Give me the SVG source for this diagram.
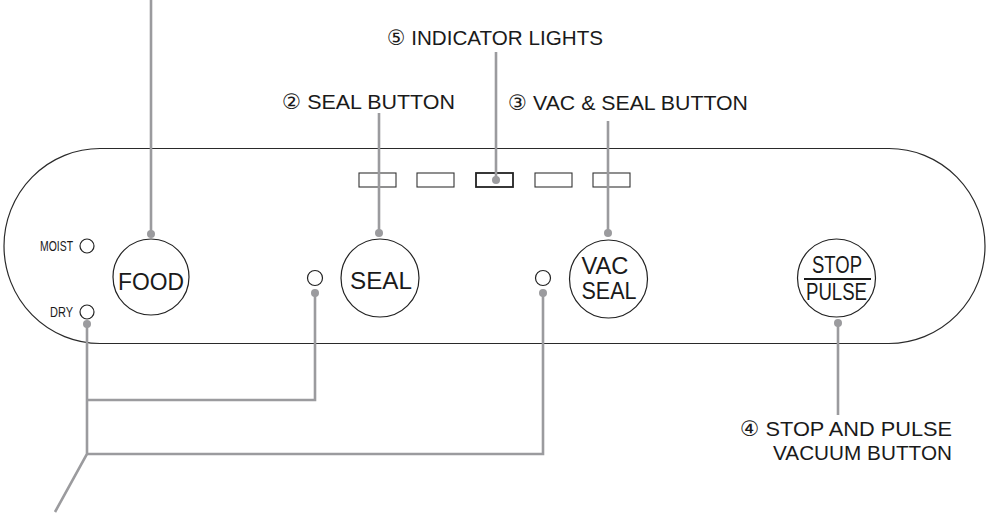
<svg xmlns="http://www.w3.org/2000/svg" width="987" height="514" viewBox="0 0 987 514">
<defs>
<style>
.panel{fill:#fff;stroke:#2a2a2a;stroke-width:1.2}
.btn{fill:#fff;stroke:#222;stroke-width:1.2}
.led{fill:#fff;stroke:#333;stroke-width:1.1}
.led-on{fill:#fff;stroke:#222;stroke-width:1.8}
.lead{fill:none;stroke:#9b9b9e;stroke-width:2.6}
.dot{fill:#9b9b9e}
.lbl{font-family:"Liberation Sans","DejaVu Sans",sans-serif;font-size:21px;fill:#1a1a1a}
.btxt{font-family:"Liberation Sans",sans-serif;font-size:24px;fill:#1a1a1a}
.small{font-family:"Liberation Sans",sans-serif;font-size:15px;fill:#1a1a1a}
</style>
</defs>
<rect width="987" height="514" fill="#fff"/>
<g id="panel">
<path class="panel" d="M100,148.5 H889 A96,97.5 0 0 1 889,343.5 H100 A96,97.5 0 0 1 100,148.5 Z"/>
</g>
<g id="indicator-lights">
<rect class="led" x="359" y="173" width="37" height="14"/>
<rect class="led" x="417" y="173" width="37" height="14"/>
<rect class="led-on" x="476" y="173" width="37" height="14"/>
<rect class="led" x="535" y="173" width="37" height="14"/>
<rect class="led" x="593" y="173" width="37" height="14"/>
</g>
<g id="moist">
<circle class="btn" cx="87" cy="246" r="7"/>
<text class="small" x="73" y="251" text-anchor="end" textLength="33" lengthAdjust="spacingAndGlyphs">MOIST</text>
</g>
<g id="dry">
<circle class="btn" cx="87" cy="312" r="7"/>
<text class="small" x="73" y="317" text-anchor="end" textLength="23" lengthAdjust="spacingAndGlyphs">DRY</text>
</g>
<g id="food-button">
<circle class="btn" cx="151" cy="277" r="38"/>
<text class="btxt" x="151" y="290" text-anchor="middle" textLength="66" lengthAdjust="spacingAndGlyphs">FOOD</text>
</g>
<g id="seal-indicator">
<circle class="btn" cx="315" cy="278" r="7.5"/>
</g>
<g id="seal-button">
<circle class="btn" cx="380" cy="278" r="39"/>
<text class="btxt" x="381" y="289" text-anchor="middle" textLength="62" lengthAdjust="spacingAndGlyphs">SEAL</text>
</g>
<g id="vac-indicator">
<circle class="btn" cx="543" cy="278" r="7.5"/>
</g>
<g id="vac-seal-button">
<circle class="btn" cx="608.5" cy="279" r="39"/>
<text class="btxt" x="605" y="274" text-anchor="middle" font-size="21" textLength="47" lengthAdjust="spacingAndGlyphs">VAC</text>
<text class="btxt" x="609" y="298.5" text-anchor="middle" font-size="21" textLength="55" lengthAdjust="spacingAndGlyphs">SEAL</text>
</g>
<g id="stop-pulse-button">
<circle class="btn" cx="836.5" cy="278" r="39"/>
<text class="btxt" x="837" y="273" text-anchor="middle" font-size="22" textLength="50" lengthAdjust="spacingAndGlyphs">STOP</text>
<line x1="804" y1="279" x2="871" y2="279" stroke="#1a1a1a" stroke-width="2"/>
<text class="btxt" x="836.5" y="300" text-anchor="middle" font-size="22" textLength="61" lengthAdjust="spacingAndGlyphs">PULSE</text>
</g>
<g id="labels">
<text class="lbl" x="387" y="45" textLength="216" lengthAdjust="spacingAndGlyphs">⑤ INDICATOR LIGHTS</text>
<text class="lbl" x="282" y="109" textLength="173" lengthAdjust="spacingAndGlyphs">② SEAL BUTTON</text>
<text class="lbl" x="508" y="110" textLength="240" lengthAdjust="spacingAndGlyphs">③ VAC &amp; SEAL BUTTON</text>
<text class="lbl" x="740" y="436" textLength="212" lengthAdjust="spacingAndGlyphs">④ STOP AND PULSE</text>
<text class="lbl" x="952" y="460" text-anchor="end" textLength="179" lengthAdjust="spacingAndGlyphs">VACUUM BUTTON</text>
</g>
<g id="connectors">
<line class="lead" x1="151" y1="0" x2="151" y2="234"/>
<circle class="dot" cx="151" cy="234" r="4"/>
<line class="lead" x1="379" y1="113" x2="379" y2="233"/>
<circle class="dot" cx="379" cy="233" r="4"/>
<line class="lead" x1="496" y1="52" x2="496" y2="180"/>
<circle class="dot" cx="496" cy="180" r="4"/>
<line class="lead" x1="608" y1="121" x2="608" y2="233"/>
<circle class="dot" cx="608" cy="233" r="4"/>
<line class="lead" x1="838" y1="323" x2="838" y2="415"/>
<circle class="dot" cx="838" cy="323" r="4"/>
<circle class="dot" cx="87" cy="324" r="4"/>
<circle class="dot" cx="315" cy="293" r="4"/>
<circle class="dot" cx="543" cy="293" r="4"/>
<polyline class="lead" points="315,293 315,400 87,400"/>
<polyline class="lead" points="543,293 543,454 87,454"/>
<polyline class="lead" points="87,324 87,454 55,512"/>
</g>
</svg>
